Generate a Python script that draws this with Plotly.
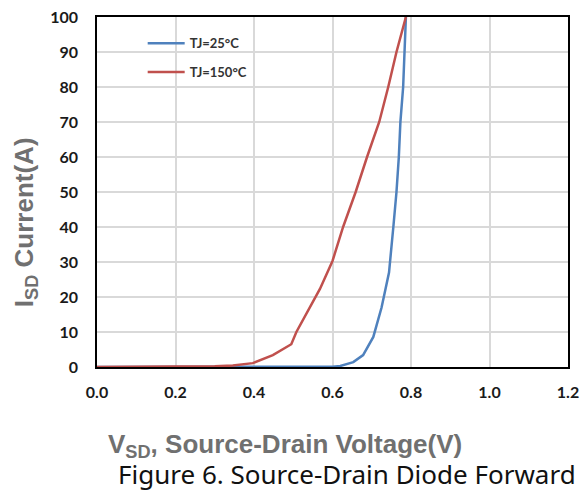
import plotly.graph_objects as go

# TJ = 25°C
v_25 = [0.0, 0.2, 0.4, 0.5, 0.6, 0.62, 0.653, 0.678, 0.704, 0.725, 0.744, 0.755, 0.763, 0.769, 0.773, 0.780, 0.783, 0.787]
i_25 = [0, 0, 0.02, 0.05, 0.1, 0.3, 1.4, 3.4, 8.6, 17, 27, 40, 50, 60, 70, 80, 90, 100]

# TJ = 150°C
v_150 = [0.0, 0.1, 0.2, 0.3, 0.346, 0.397, 0.448, 0.495, 0.508, 0.542, 0.568, 0.6, 0.627, 0.659, 0.688, 0.719, 0.742, 0.763, 0.787]
i_150 = [0, 0.01, 0.05, 0.2, 0.4, 1.1, 3.4, 6.5, 10, 17, 22.3, 30.3, 40, 50, 60, 70, 80, 90, 100]

x_ticks = [0.0, 0.2, 0.4, 0.6, 0.8, 1.0, 1.2]
x_tick_labels = ["0.0", "0.2", "0.4", "0.6", "0.8", "1.0", "1.2"]
y_ticks = [0, 10, 20, 30, 40, 50, 60, 70, 80, 90, 100]

series_names = ["TJ=25°C", "TJ=150°C"]
series_colors = ["#4F81BD", "#C0504D"]

fig = go.Figure()
fig.add_trace(go.Scatter(x=v_25, y=i_25, mode="lines", name=series_names[0],
                         legendgroup="a",
                         line=dict(color=series_colors[0], width=2.5)))
fig.add_trace(go.Scatter(x=v_150, y=i_150, mode="lines", name=series_names[1],
                         legendgroup="b",
                         line=dict(color=series_colors[1], width=2.5)))

tick_font = dict(family="Lato", size=16, color="#1a1a1a", weight="bold")

fig.update_layout(
    width=584, height=495,
    margin=dict(l=97, r=16, t=17, b=128, autoexpand=False),
    paper_bgcolor="white", plot_bgcolor="white",
    showlegend=True,
    legend=dict(x=0.097, y=0.968, xanchor="left", yanchor="top",
                bgcolor="rgba(0,0,0,0)", tracegroupgap=9,
                font=dict(family="Lato", size=13, color="#333333", weight="bold"),
                itemwidth=37),
    xaxis=dict(range=[0, 1.2], tickvals=x_ticks, ticktext=x_tick_labels,
               automargin=False,
               showgrid=True, gridcolor="#d9d9d9", gridwidth=1.5,
               showline=True, linecolor="black", linewidth=1.5, mirror=True,
               ticks="", tickfont=tick_font, ticklabelstandoff=10,
               zeroline=False),
    yaxis=dict(range=[0, 100], tickvals=y_ticks,
               automargin=False,
               showgrid=True, gridcolor="#d9d9d9", gridwidth=1.5,
               showline=True, linecolor="black", linewidth=1.5, mirror=True,
               ticks="", tickfont=tick_font, ticklabelstandoff=14,
               zeroline=False),
)

fig.add_annotation(text="I<sub>SD</sub> Current(A)", xref="paper", yref="paper",
                   x=-0.152, y=0.415, textangle=-90, showarrow=False,
                   xanchor="center", yanchor="middle",
                   font=dict(family="Liberation Sans", size=26, color="#707070", weight="bold"))
fig.add_annotation(text="V<sub>SD</sub>, Source-Drain Voltage(V)", xref="paper", yref="paper",
                   x=0.40, y=-0.224, showarrow=False,
                   xanchor="center", yanchor="middle",
                   font=dict(family="Liberation Sans", size=26, color="#707070", weight="bold"))
fig.add_annotation(text="Figure 6. Source-Drain Diode Forward", xref="paper", yref="paper",
                   x=0.53, y=-0.305, showarrow=False,
                   xanchor="center", yanchor="middle",
                   font=dict(family="Noto Sans", size=26, color="#111111"))

fig.write_html("out.html", config={"displayModeBar": False},
               post_script="document.body.style.margin='0px';")
